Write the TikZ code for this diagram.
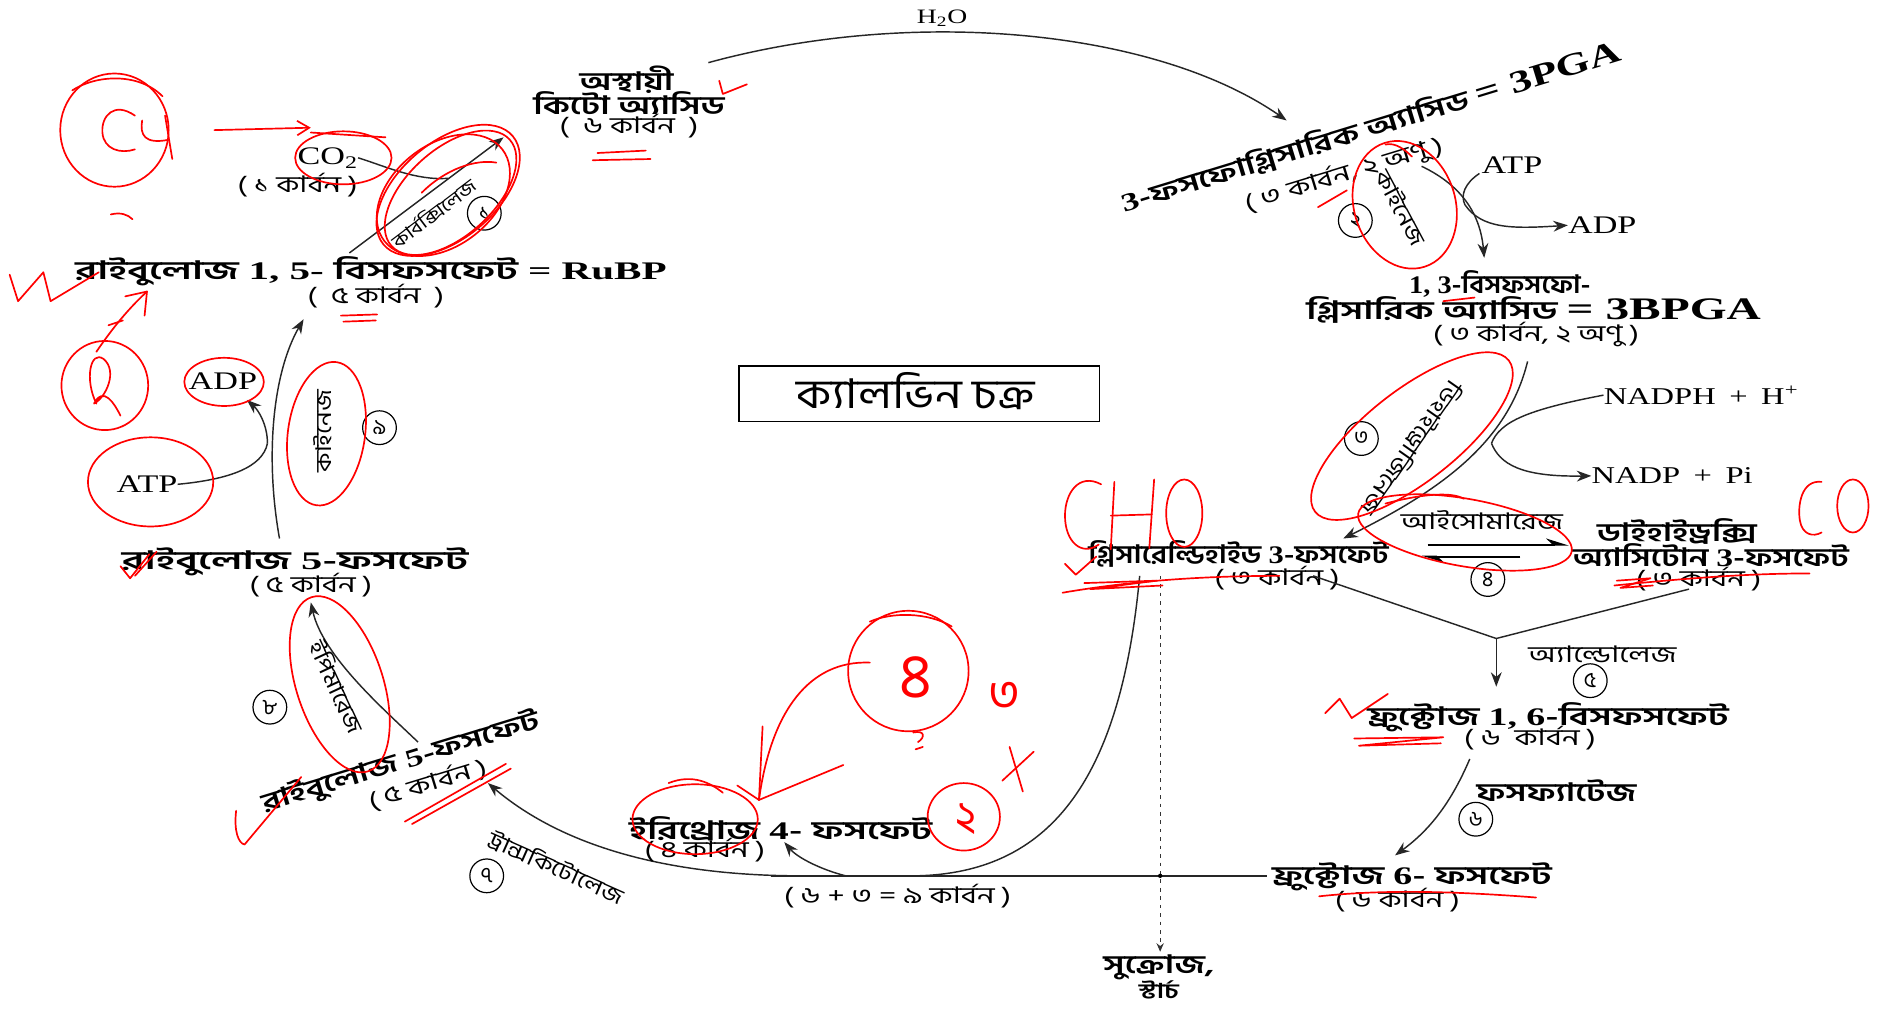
\documentclass[tikz,border=0pt]{standalone}
\usepackage{fontspec}
\setmainfont{Liberation Serif}
\newfontfamily\bn[Script=Bengali]{Hind Siliguri}
\usetikzlibrary{arrows.meta}
\newcommand{\lt}[1]{{\rmfamily #1}}
\tikzset{
  bl/.style={font=\bn\fontsize{19}{21}\selectfont, inner sep=0pt, xscale=1.35},
  blb/.style={font=\bn\bfseries\fontsize{21}{23}\selectfont, inner sep=0pt, xscale=1.4},
  lbl/.style={font=\bn\fontsize{18}{20}\selectfont, inner sep=0pt, xscale=1.2},
  lat/.style={font=\fontsize{21}{23}\selectfont, inner sep=0pt, xscale=1.35},
  num/.style={circle, draw, line width=1pt, minimum size=28pt, inner sep=0pt, font=\bn\fontsize{18}{20}\selectfont},
  ln/.style={line width=1.2pt, draw=black!85},
  arr/.style={ln, -{Stealth[length=12pt,width=9pt]}},
  rd/.style={draw=red, line width=1.4pt, line cap=round, line join=round},
  rdtext/.style={text=red, inner sep=0pt},
}
\begin{document}
\begin{tikzpicture}[x=1pt,y=-1pt]
\useasboundingbox (0,0) rectangle (1568,837);
\fill[white] (0,0) rectangle (1568,837);

% ---------- title ----------
\node[draw, line width=1.3pt, minimum width=299pt, minimum height=46pt] (title) at (763,327) {};
\node[font=\bn\fontsize{34}{36}\selectfont, xscale=1.15, inner sep=0pt] (titletext) at (760,325) {ক্যালভিন চক্র};

% ---------- top ----------
\node[lat, font=\fontsize{17}{19}\selectfont] (h2o) at (782,15) {H\textsubscript{2}O};
\node[blb] (keto1) at (520,66) {অস্থায়ী};
\node[blb] (keto2) at (522,86) {কিটো অ্যাসিড};
\node[bl] (keto3) at (522,105) {(\ \ ৬ কার্বন\ \ )};
\coordinate (arcS) at (588,52);
\coordinate (arcE) at (1068,100);
\draw[arr] (arcS) .. controls (760,5) and (960,25) .. (arcE);

\node[lat] (co2) at (272,131) {CO\textsubscript{2}};
\node[bl] (co2c) at (247,154) {(\ ১\ কার্বন )};
\coordinate (a1s) at (290,210);
\coordinate (a1e) at (418,114);
\coordinate (a1j) at (372,148);
\draw[arr] (a1s) -- (a1e);
\draw[ln] (co2.east) .. controls (320,138) and (345,150) .. (a1j);
\node[rotate=37, lbl, font=\bn\fontsize{15}{17}\selectfont] (carb) at (360,177) {কার্বক্সিলেজ};
\node[num] (n1) at (402,177) {১};

% RuBP
\node[blb, xscale=1.16] (rubp) at (308,225) {রাইবুলোজ\ \lt{1, 5-} বিসফসফেট \lt{= RuBP}};
\node[bl] (rubpc) at (312,246) {(\ \ ৫ কার্বন\ \ )};

% left kinase
\node[blb, xscale=1.2] (r5p) at (245,466) {রাইবুলোজ\ \lt{5}-ফসফেট};
\node[bl] (r5pc) at (258,486) {(\ ৫\ কার্বন\ )};
\coordinate (a9s) at (232,447);
\coordinate (a9e) at (252,265);
\draw[arr] (a9s) .. controls (220,380) and (226,310) .. (a9e);
\node[lat] (atp1) at (122,402) {ATP};
\node[lat] (adp1) at (185,316) {ADP};
\coordinate (k9) at (222,368);
\draw[ln] (atp1.east) .. controls (190,398) and (218,388) .. (k9);
\draw[arr] (k9) .. controls (222,352) and (214,340) .. (205,332);
\node[rotate=90, lbl] (kin9) at (268,358) {কাইনেজ};
\node[num] (n9) at (315,355) {৯};

% epimerase
\node[rotate=17, blb] (r5pb) at (333,633) {রাইবুলোজ \lt{5}-ফসফেট};
\node[rotate=17, bl] (r5pbc) at (355,651) {(\ ৫\ কার্বন )};
\coordinate (a8s) at (347,616);
\coordinate (a8e) at (258,500);
\draw[arr] (a8s) .. controls (320,590) and (268,545) .. (a8e);
\node[rotate=-65, lbl] (epi) at (280,570) {ইপিমারেজ};
\node[num] (n8) at (224,587) {৮};

% transketolase & bottom line
\coordinate (tkS) at (665,727);
\coordinate (tkE) at (405,650);
\draw[arr] (tkS) .. controls (560,727) and (470,705) .. (tkE);
\draw[ln] (640,727) -- (1052,727);
\node[rotate=-24, lbl] (tk) at (462,720) {ট্রান্সকিটোলেজ};
\node[num] (n7) at (404,727) {৭};

% erythrose
\node[blb, xscale=1.1] (e4p) at (648,688) {ইরিথ্রোজ\ \lt{4}-\ ফসফেট};
\node[bl] (e4pc) at (585,706) {(\ ৪\ কার্বন )};
\coordinate (e4s) at (702,727);
\draw[arr] (e4s) .. controls (682,722) and (662,712) .. (651,699);
\node[bl] (nine) at (745,744) {(\ ৬ + ৩ = ৯ কার্বন\ )};

% G3P S curve and sucrose
\node[blb, xscale=0.86] (g3p) at (1028,460) {গ্লিসারেল্ডিহাইড \lt{3}-ফসফেট};
\node[bl] (g3pc) at (1060,480) {(\ ৩\ কার্বন )};
\coordinate (sS) at (946,478);
\coordinate (sE) at (760,727);
\draw[ln] (sS) .. controls (930,650) and (870,725) .. (sE);
\coordinate (dS) at (963,478);
\node[blb] (suc) at (962,803) {সুক্রোজ,};
\node[bl, font=\bn\bfseries\fontsize{17}{19}\selectfont] (sta) at (962,822) {স্টার্চ};
\draw[line width=1pt, black!80, dash pattern=on 3pt off 4pt, -{Stealth[length=7pt,width=6pt]}] (dS) -- (963,790);
\fill (963,727) circle (1.8pt);

% ---------- right side ----------
\node[rotate=17, blb] (pga) at (1138,106) {\lt{3}-ফসফোগ্লিসারিক অ্যাসিড \lt{\fontsize{26}{28}\selectfont = 3PGA}};
\node[rotate=17, bl] (pgac) at (1116,145) {(\ ৩ কার্বন, ২ অণু )};
\coordinate (a2s) at (1180,138);
\coordinate (a2e) at (1232,214);
\coordinate (k2) at (1216,170);
\draw[arr] (a2s) .. controls (1205,150) and (1228,170) .. (a2e);
\node[lat] (atp2) at (1255,137) {ATP};
\node[lat] (adp2) at (1330,187) {ADP};
\draw[ln] (1228,144) .. controls (1216,152) and (1212,162) .. (k2);
\draw[arr] (k2) .. controls (1230,190) and (1255,190) .. (adp2.west);
\node[rotate=-62, lbl] (kin2) at (1163,172) {কাইনেজ};
\node[num] (n2) at (1125,183) {২};

\node[blb, xscale=0.8] (bpga1) at (1245,236) {\lt{1, 3}-বিসফসফো-};
\node[blb, xscale=1.08] (bpga2) at (1273,257) {গ্লিসারিক অ্যাসিড \lt{\fontsize{26}{28}\selectfont = 3BPGA}};
\node[bl] (bpgac) at (1275,278) {(\ ৩ কার্বন, ২ অণু\ )};

\coordinate (a3s) at (1268,300);
\coordinate (a3e) at (1115,447);
\coordinate (k3) at (1238,368);
\draw[arr] (a3s) .. controls (1252,365) and (1200,405) .. (a3e);
\node[lat, font=\fontsize{20}{22}\selectfont] (nadph) at (1412,328) {NADPH \,+\, H\textsuperscript{+}};
\node[lat, font=\fontsize{20}{22}\selectfont] (nadp) at (1388,395) {NADP \,+\, Pi};
\draw[ln] (nadph.west) .. controls (1268,340) and (1245,350) .. (k3);
\draw[arr] (k3) .. controls (1245,385) and (1262,396) .. (nadp.west);
\node[rotate=-125, lbl] (dehyd) at (1172,372) {ডিহাইড্রোজিনেজ};
\node[num] (n3) at (1130,364) {৩};

% isomerase
\node[bl] (iso) at (1230,432) {আইসোমারেজ};
\draw[line width=1.6pt, -{Stealth[harpoon,length=16pt,width=10pt]}] (1185,452) -- (1302,452);
\draw[line width=1.6pt, -{Stealth[harpoon,length=16pt,width=10pt]}] (1262,462) -- (1180,462);
\node[num] (n4) at (1235,481) {৪};
\node[blb] (dhap1) at (1392,441) {ডাইহাইড্রক্সি};
\node[blb, xscale=0.95] (dhap2) at (1420,461) {অ্যাসিটোন \lt{3}-ফসফেট};
\node[bl] (dhapc) at (1410,481) {(\ ৩\ কার্বন )};

% aldolase
\coordinate (vL) at (1090,478);
\coordinate (vM) at (1242,530);
\coordinate (vR) at (1402,489);
\draw[ln] (vL) -- (vM) -- (vR);
\draw[arr] (vM) -- (1242,570);
\node[bl] (ald) at (1330,543) {অ্যাল্ডোলেজ};
\node[num] (n5) at (1320,565) {৫};

\node[blb, xscale=1.07] (f16) at (1285,595) {ফ্রুক্টোজ\ \lt{1, 6}-বিসফসফেট};
\node[bl] (f16c) at (1270,613) {(\ ৬\ \ কার্বন\ )};
\coordinate (a6s) at (1220,630);
\coordinate (a6e) at (1158,710);
\draw[arr] (a6s) .. controls (1205,665) and (1188,688) .. (a6e);
\node[blb] (phos) at (1292,656) {ফসফ্যাটেজ};
\node[num] (n6) at (1225,680) {৬};
\node[blb, xscale=1.07] (f6p) at (1172,728) {ফ্রুক্টোজ\ \lt{6}-\ ফসফেট};
\node[bl] (f6pc) at (1160,747) {(\ ৬\ কার্বন\ )};

% ---------- red annotations ----------
% C4 circle and arrow
\draw[rd] (95,108) ellipse [x radius=45pt, y radius=47pt];
\draw[rd] (60,75) .. controls (80,62) and (115,60) .. (135,80);
\draw[rd] (112,96) .. controls (95,84) and (84,96) .. (85,110) .. controls (86,124) and (100,128) .. (112,124);
\draw[rd] (118,100) .. controls (116,112) and (120,120) .. (140,116);
\draw[rd] (137,96) -- (143,132);
\draw[rd] (92,178) .. controls (100,176) and (106,178) .. (110,182);
\draw[rd, -{Straight Barb[length=10pt,width=12pt]}] (178,108) -- (258,106);
\draw[rd] (285,131) ellipse [x radius=40pt, y radius=22pt];
\draw[rd] (258,110) -- (320,114);
% ellipses around step 1
\draw[rd, rotate around={40:(372,158)}] (372,158) ellipse [x radius=70pt, y radius=40pt];
\draw[rd, rotate around={42:(374,160)}] (374,160) ellipse [x radius=66pt, y radius=36pt];
\draw[rd, rotate around={38:(368,162)}] (368,162) ellipse [x radius=62pt, y radius=42pt];
\draw[rd] (350,160) .. controls (370,140) and (395,132) .. (412,135);
% RuBP marks
\draw[rd] (8,228) -- (15,250) -- (36,226) -- (42,250) -- (82,226);
\draw[rd] (283,262) -- (313,261);
\draw[rd] (285,267) -- (312,266);
\draw[rd] (80,292) .. controls (95,270) and (108,255) .. (122,242);
\draw[rd] (104,246) -- (122,242) -- (120,262);
\draw[rd] (90,270) -- (102,266);
% 5 circle left
\draw[rd] (87,320) ellipse [x radius=36pt, y radius=37pt];
\draw[rd] (80,335) .. controls (70,315) and (75,290) .. (86,298) .. controls (98,308) and (88,330) .. (78,335) .. controls (86,320) and (95,335) .. (100,345);
% ADP / ATP / kinase ellipses
\draw[rd] (186,317) ellipse [x radius=33pt, y radius=20pt];
\draw[rd] (125,400) ellipse [x radius=52pt, y radius=37pt];
\draw[rd, rotate around={-8:(271,360)}] (271,360) ellipse [x radius=32pt, y radius=60pt];
\draw[rd] (100,470) -- (108,480) -- (124,460);
\draw[rd] (112,478) -- (130,458);
% epimerase ellipse and checks
\draw[rd, rotate around={18:(282,568)}] (282,568) ellipse [x radius=36pt, y radius=76pt];
\draw[rd] (196,673) .. controls (194,690) and (198,700) .. (203,701) -- (250,645);
\draw[rd] (336,682) -- (420,634);
\draw[rd] (342,684) -- (424,638);
% erythrose and numbers
\draw[rd] (577,680) ellipse [x radius=52pt, y radius=29pt];
\draw[rd] (555,650) .. controls (575,642) and (590,650) .. (600,658);
\draw[rd] (754,557) circle [radius=50pt];
\draw[rd] (722,516) .. controls (740,508) and (770,508) .. (790,520);
\node[rdtext, font=\bn\fontsize{52}{52}\selectfont] at (760,562) {৪};
\node[rdtext, font=\bn\fontsize{40}{40}\selectfont] at (834,578) {৩};
\draw[rd] (758,608) .. controls (768,606) and (768,612) .. (762,616);
\draw[rd] (760,622) -- (766,620);
\draw[rd] (832,648) -- (858,624);
\draw[rd] (838,620) -- (849,657);
\draw[rd] (800,678) ellipse [x radius=30pt, y radius=28pt];
\node[rdtext, font=\bn\fontsize{36}{36}\selectfont] at (802,680) {২};
\draw[rd] (722,550) .. controls (672,548) and (640,590) .. (630,664);
\draw[rd] (633,603) -- (630,664);
\draw[rd] (700,635) -- (630,664);
\draw[rd] (612,652) -- (630,664);
% CHO
\draw[rd] (914,402) .. controls (895,392) and (884,410) .. (884,428) .. controls (884,450) and (898,462) .. (912,452);
\draw[rd] (925,400) -- (922,456);
\draw[rd] (958,398) -- (954,455);
\draw[rd] (922,428) -- (956,427);
\draw[rd] (983,426) ellipse [x radius=15pt, y radius=28pt];
\draw[rd] (884,468) -- (893,477) -- (910,462);
\draw[rd] (882,492) .. controls (940,482) and (1000,478) .. (1062,478);
\draw[rd] (900,484) -- (960,482) -- (905,489) -- (965,486);
% CO
\draw[rd] (1512,400) .. controls (1495,398) and (1492,420) .. (1494,432) .. controls (1496,444) and (1505,446) .. (1512,442);
\draw[rd] (1538,420) ellipse [x radius=13pt, y radius=22pt];
\draw[rd] (1340,486) .. controls (1400,480) and (1450,476) .. (1502,476);
\draw[rd] (1342,482) -- (1370,480) -- (1345,488) -- (1372,486);
% isomerase / dehydrogenase / kinase2 ellipses
\draw[rd, rotate around={-10:(1216,442)}] (1216,442) ellipse [x radius=90pt, y radius=28pt];
\draw[rd] (1150,418) .. controls (1180,410) and (1205,408) .. (1215,414);
\draw[rd, rotate around={38:(1172,362)}] (1172,362) ellipse [x radius=102pt, y radius=38pt];
\draw[rd, rotate around={18:(1166,170)}] (1166,170) ellipse [x radius=42pt, y radius=54pt];
\draw[rd] (1094,172) -- (1118,158);
\draw[rd] (1150,120) .. controls (1158,118) and (1166,124) .. (1172,130);
\draw[rd] (1198,250) -- (1224,247);
% fructose marks
\draw[rd] (1100,592) -- (1112,580) -- (1122,596) -- (1152,576);
\draw[rd] (1124,613) -- (1198,612) -- (1128,619) -- (1196,617);
\draw[rd] (1095,744) .. controls (1150,738) and (1210,740) .. (1275,745);
% keto marks
\draw[rd] (597,67) -- (600,78) -- (620,70);
\draw[rd] (496,127) -- (536,125);
\draw[rd] (492,133) -- (540,132);
\end{tikzpicture}
\end{document}
